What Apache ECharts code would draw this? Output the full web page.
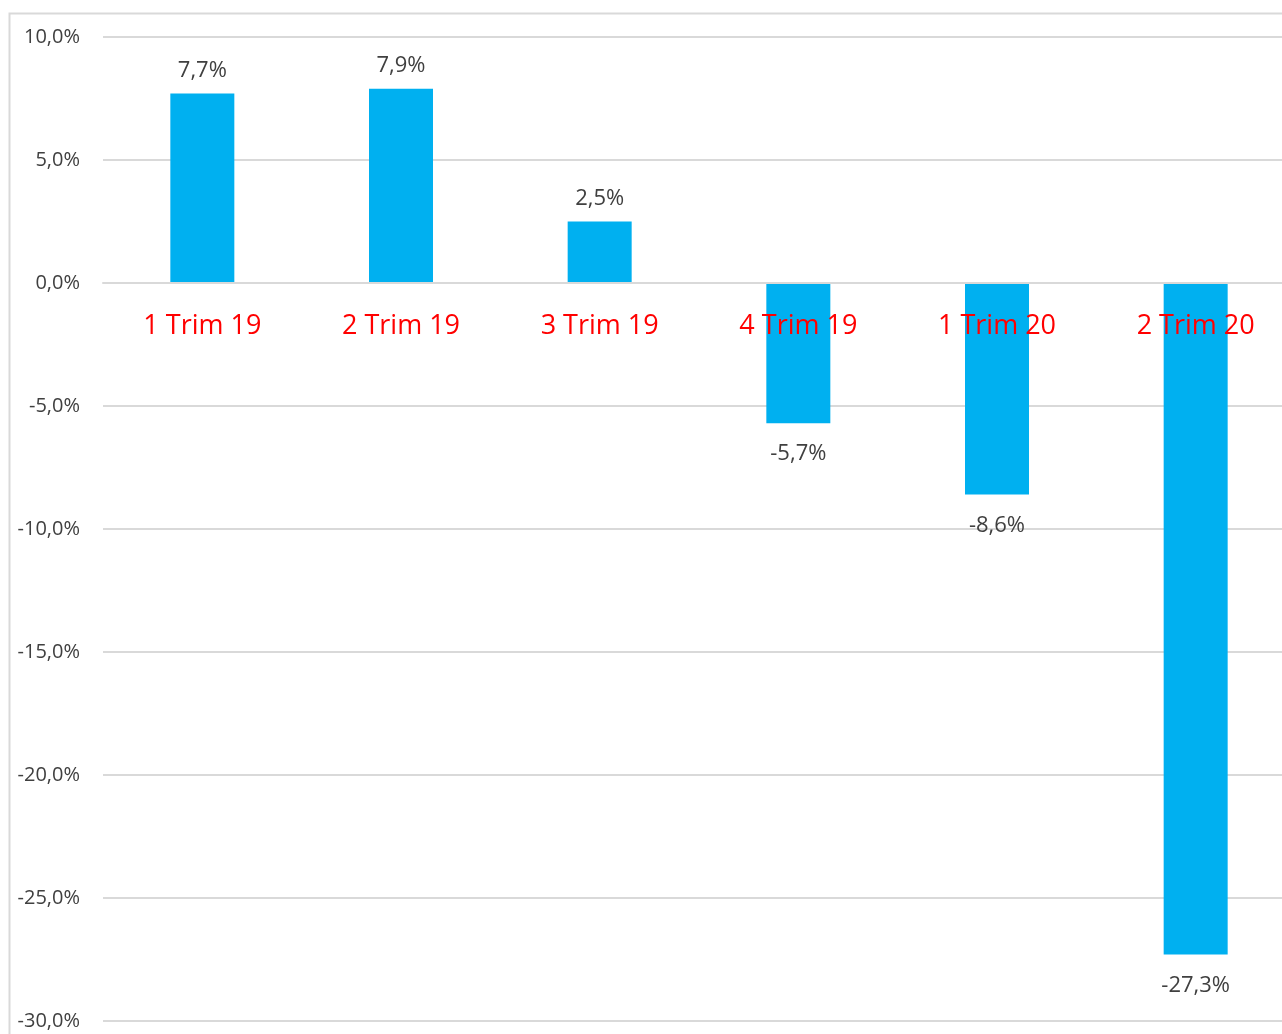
<!DOCTYPE html>
<html>
<head>
<meta charset="utf-8">
<script src="https://cdn.jsdelivr.net/npm/echarts@6/dist/echarts.min.js"></script>
<style>
  html, body { margin: 0; padding: 0; background: #fff; }
  #chart { width: 1282px; height: 1034px; }
</style>
</head>
<body>
<div id="chart"></div>
<script>
// Quarterly change, %
const quarters = ['1 Trim 19', '2 Trim 19', '3 Trim 19', '4 Trim 19', '1 Trim 20', '2 Trim 20'];
const changes = [7.7, 7.9, 2.5, -5.7, -8.6, -27.3];
const axisMin = -30;
const axisMax = 10;
const axisStep = 5;

const fmt = v => v.toFixed(1).replace('.', ',') + '%';
const font = 'Open Sans, Noto Sans, sans-serif';

const chart = echarts.init(document.getElementById('chart'), null, { renderer: 'canvas' });

chart.setOption({
  backgroundColor: '#ffffff',
  animation: false,
  graphic: [{
    type: 'rect',
    shape: { x: 9.5, y: 13.5, width: 1400, height: 1100 },
    style: { fill: 'none', stroke: '#d9d9d9', lineWidth: 2 },
    silent: true,
    z: -1
  }],
  grid: { left: 103, right: -13, top: 37, bottom: 13, containLabel: false, outerBoundsMode: 'none' },
  xAxis: {
    type: 'category',
    data: quarters,
    position: 'bottom',
    axisLine: { onZero: false, lineStyle: { color: '#d9d9d9', width: 2 } },
    axisTick: { show: false },
    axisLabel: {
      color: '#ff0000',
      fontFamily: font,
      fontSize: 27,
      margin: 30,
      interval: 0
    },
    z: 10
  },
  yAxis: {
    type: 'value',
    min: axisMin,
    max: axisMax,
    interval: axisStep,
    axisLine: { show: false },
    axisTick: { show: false },
    splitLine: { lineStyle: { color: '#d9d9d9', width: 2 } },
    axisLabel: {
      color: '#404040',
      fontFamily: font,
      fontSize: 20,
      margin: 23,
      formatter: v => fmt(v)
    }
  },
  series: [{
    type: 'bar',
    barWidth: 64,
    itemStyle: { color: '#00b0f0' },
    data: changes.map(v => ({
      value: v,
      label: {
        show: true,
        position: v >= 0 ? 'top' : 'bottom',
        distance: v >= 0 ? 12 : 20,
        color: '#404040',
        fontFamily: font,
        fontSize: 22,
        formatter: p => fmt(p.value)
      }
    }))
  }]
});

// Lift the category axis up to the zero line of the value axis
const yZero = chart.convertToPixel({ yAxisIndex: 0 }, 0);
const yBottom = chart.convertToPixel({ yAxisIndex: 0 }, axisMin);
chart.setOption({ xAxis: { offset: -(yBottom - yZero) } });
</script>
</body>
</html>
